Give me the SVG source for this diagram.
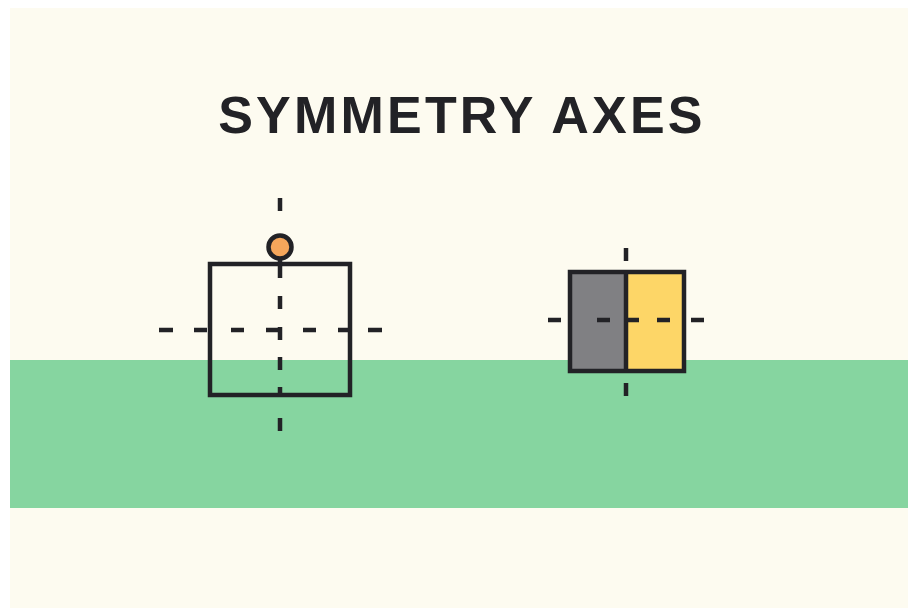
<svg xmlns="http://www.w3.org/2000/svg" width="908" height="608" viewBox="0 0 908 608">
<style>
.ink{stroke:#222226;fill:none;stroke-width:4.5}
.dash{stroke:#222226;stroke-width:4.5;fill:none}
.title{font-family:"Liberation Sans",Arial,sans-serif;font-weight:bold;font-size:52px;fill:#222226;letter-spacing:3.2px}
</style>
<rect x="0" y="0" width="908" height="608" fill="#ffffff"/>
<rect x="10" y="8" width="898" height="600" fill="#FDFBF0"/>
<rect x="10" y="360" width="898" height="148" fill="#86D5A0"/>
<text class="title" x="462" y="133" text-anchor="middle">SYMMETRY AXES</text>
<g id="square-node">
<rect class="ink" x="210" y="264" width="140" height="131"/>
</g>
<g id="marker-node">
<circle cx="280" cy="247" r="11.5" fill="#F5A65B" stroke="#222226" stroke-width="4.5"/>
</g>
<g id="split-node">
<rect x="570" y="272" width="56" height="99" fill="#808083"/>
<rect x="626" y="272" width="58" height="99" fill="#FDD667"/>
<rect class="ink" x="570" y="272" width="114" height="99" stroke-width="5"/>
<line class="ink" x1="626" y1="272" x2="626" y2="371" stroke-width="5"/>
</g>
<g id="connectors">
<path class="dash" d="M280 198V211M280 259V278M280 296V309M280 327V340M280 357V370M280 387V395M280 418V431"/>
<path class="dash" d="M159 330H173M194 330H207M231 330H244M266 330H280M303 330H316M338 330H350M368 330H382"/>
<path class="dash" d="M626 248V261M626 383V396M548 320H561M597 320H610M626 320H639M657 320H670M691 320H704"/>
</g>
</svg>
